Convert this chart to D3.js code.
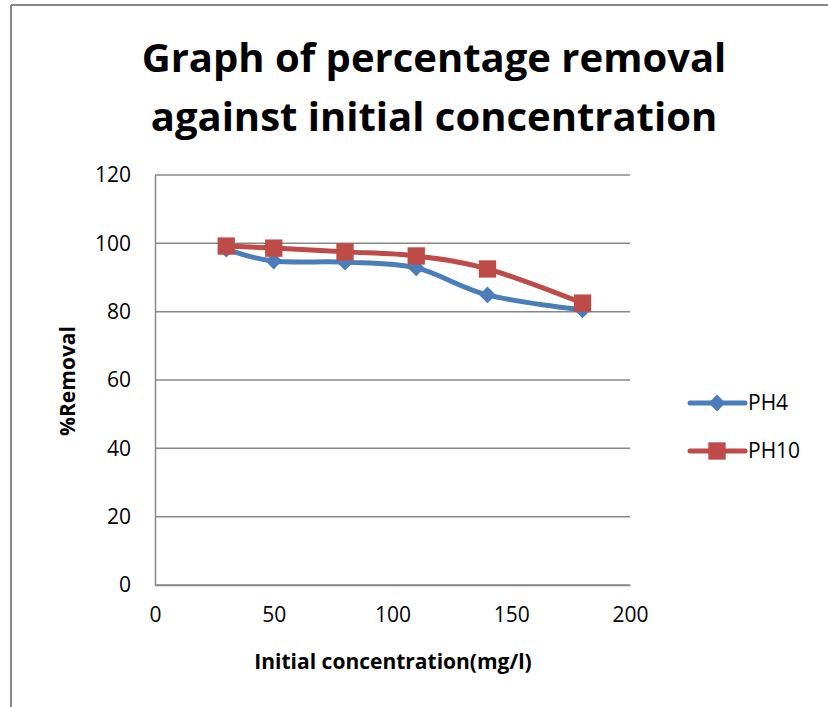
<!DOCTYPE html>
<html>
<head>
<meta charset="utf-8">
<script src="https://cdn.jsdelivr.net/npm/d3@7/dist/d3.min.js"></script>
<style>
  html, body { margin: 0; padding: 0; background: #fff; }
  svg { display: block; }
</style>
</head>
<body>
<script>
// Concentrations (mg/l) and percentage removal for the two pH runs
const concentrations = [30, 50, 80, 110, 140, 180];
const ph4Removal  = [98.3, 94.8, 94.5, 92.8, 84.9, 80.5];
const ph10Removal = [99.2, 98.6, 97.5, 96.3, 92.5, 82.5];
const seriesNames = ["PH4", "PH10"];
const xTicks = [0, 50, 100, 150, 200];
const yTicks = [0, 20, 40, 60, 80, 100, 120];
const titleLines = ["Graph of percentage removal", "against initial concentration"];

const W = 828, H = 707;
const font = "'Open Sans', 'Noto Sans', sans-serif";
const svg = d3.select("body").append("svg").attr("width", W).attr("height", H);

// frame around the chart
svg.append("line").attr("x1", 11).attr("x2", W).attr("y1", 5).attr("y2", 5)
  .attr("stroke", "#888").attr("stroke-width", 2);
svg.append("line").attr("x1", 11).attr("x2", 11).attr("y1", 5).attr("y2", H)
  .attr("stroke", "#888").attr("stroke-width", 2);

const plot = { left: 155, right: 630, top: 175, bottom: 585 };
const x = d3.scaleLinear().domain([0, 200]).range([plot.left, plot.right]);
const y = d3.scaleLinear().domain([0, 120]).range([plot.bottom, plot.top]);

// title
svg.selectAll("text.title").data(titleLines).join("text")
  .attr("class", "title")
  .attr("x", 434).attr("y", (d, i) => 72 + i * 59)
  .attr("text-anchor", "middle")
  .attr("font-family", font).attr("font-weight", "bold").attr("font-size", 40)
  .attr("fill", "#000")
  .text(d => d);

// horizontal gridlines
svg.append("g").selectAll("line").data(yTicks).join("line")
  .attr("x1", plot.left).attr("x2", plot.right)
  .attr("y1", d => y(d)).attr("y2", d => y(d))
  .attr("stroke", "#888").attr("stroke-width", 1.5);

// y axis
const yAxis = svg.append("g").attr("transform", `translate(${plot.left},0)`)
  .call(d3.axisLeft(y).tickValues(yTicks).tickSize(0).tickPadding(24));
yAxis.select(".domain").attr("stroke", "#888").attr("stroke-width", 1.5);
yAxis.selectAll("text").attr("font-family", font).attr("font-size", 21).attr("fill", "#000");

// x axis
const xAxis = svg.append("g").attr("transform", `translate(0,${plot.bottom})`)
  .call(d3.axisBottom(x).tickValues(xTicks).tickSize(0).tickPadding(22));
xAxis.select(".domain").attr("stroke", "#888").attr("stroke-width", 1.5);
xAxis.selectAll("text").attr("font-family", font).attr("font-size", 21).attr("fill", "#000");

// axis titles
svg.append("text")
  .attr("x", 393).attr("y", 669).attr("text-anchor", "middle")
  .attr("font-family", font).attr("font-weight", "bold").attr("font-size", 21)
  .text("Initial concentration(mg/l)");
svg.append("text")
  .attr("transform", "translate(75,381) rotate(-90)").attr("text-anchor", "middle")
  .attr("font-family", font).attr("font-weight", "bold").attr("font-size", 21)
  .text("%Removal");

const series = [
  { name: seriesNames[0], values: ph4Removal, color: "#4a7ebb", shape: d3.symbolDiamond2 },
  { name: seriesNames[1], values: ph10Removal, color: "#be4b48", shape: d3.symbolSquare }
];

const line = d3.line()
  .x((d, i) => x(concentrations[i]))
  .y(d => y(d))
  .curve(d3.curveCatmullRom.alpha(0));

series.forEach(s => {
  svg.append("path").datum(s.values)
    .attr("d", line).attr("fill", "none")
    .attr("stroke", s.color).attr("stroke-width", 5).attr("stroke-linejoin", "round");
  const size = s.shape === d3.symbolSquare ? 300 : 180;
  svg.append("g").selectAll("path").data(s.values).join("path")
    .attr("transform", (d, i) => `translate(${x(concentrations[i])},${y(d)})`)
    .attr("d", d3.symbol().type(s.shape).size(size))
    .attr("fill", s.color);
});

// legend
const legend = svg.append("g");
series.forEach((s, i) => {
  const ly = 403 + i * 48;
  legend.append("line").attr("x1", 690).attr("x2", 745).attr("y1", ly).attr("y2", ly)
    .attr("stroke", s.color).attr("stroke-width", 5).attr("stroke-linecap", "round");
  const size = s.shape === d3.symbolSquare ? 300 : 180;
  legend.append("path")
    .attr("transform", `translate(717,${ly})`)
    .attr("d", d3.symbol().type(s.shape).size(size))
    .attr("fill", s.color);
  legend.append("text").attr("x", 748).attr("y", ly + 7)
    .attr("font-family", font).attr("font-size", 21).text(s.name);
});
</script>
</body>
</html>
